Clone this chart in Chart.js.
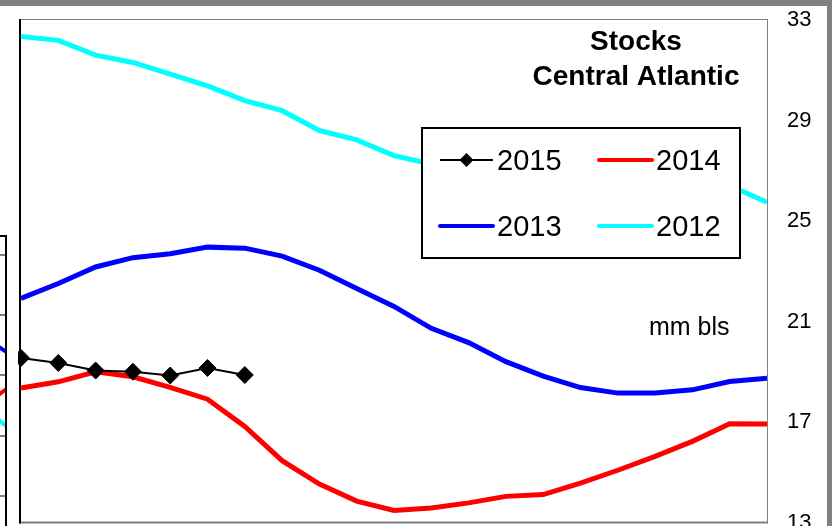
<!DOCTYPE html>
<html>
<head>
<meta charset="utf-8">
<script src="https://cdn.jsdelivr.net/npm/chart.js@4.4.0/dist/chart.umd.min.js"></script>
<style>
  html, body { margin: 0; padding: 0; background: #fff; overflow: hidden; }
  #wrap { position: relative; width: 832px; height: 526px; overflow: hidden; background: #fff; }
  #main { position: absolute; left: 0; top: 0; }
  #side { position: absolute; left: -293px; top: 235px; }
  .band { position: absolute; background: #808080; }
</style>
</head>
<body>
<div id="wrap">
  <canvas id="main" width="832" height="532"></canvas>
  <canvas id="side" width="300" height="291"></canvas>
  <div class="band" style="left:0;top:0;width:832px;height:6px"></div>
  <div class="band" style="left:827px;top:0;width:5px;height:526px"></div>
</div>
<script>
// weekly stock levels, mm bls
const weeks = ['1', '2', '3', '4', '5', '6', '7', '8', '9', '10', '11',
               '12', '13', '14', '15', '16', '17', '18', '19', '20', '21'];
const stocks2015 = [19.55, 19.35, 19.05, 19.0, 18.85, 19.15, 18.87];
const stocks2014 = [18.35, 18.6, 19.0, 18.8, 18.38, 17.91, 16.82, 15.46, 14.53, 13.85, 13.48,
                    13.58, 13.78, 14.04, 14.11, 14.57, 15.08, 15.63, 16.23, 16.93, 16.92];
const stocks2013 = [21.92, 22.51, 23.17, 23.54, 23.7, 23.96, 23.92, 23.6, 23.04, 22.31, 21.6,
                    20.73, 20.16, 19.4, 18.83, 18.37, 18.15, 18.15, 18.28, 18.61, 18.74];
const stocks2012 = [32.34, 32.19, 31.6, 31.31, 30.85, 30.38, 29.79, 29.39, 28.6, 28.23, 27.6,
                    27.27, 27.05, 26.9, 26.8, 26.7, 26.62, 26.55, 26.5, 26.4, 25.75];
const axisMin = 13, axisMax = 33, axisStep = 4;

// neighbouring chart, only its right edge is in the picture
const sideLabels = ['a', 'b', 'c', 'd', 'e'];
const sideBlue = [24.5, 23.8, 23.0, 22.3, 17.3];
const sideRed = [16.0, 14.5, 11.0, 8.2, 13.7];
const sideCyan = [25.0, 22.0, 19.0, 16.0, 9.9];
const sideGrid = [27, 21, 15, 9, 3];

const FONT = 'Arial, "Liberation Sans", Helvetica, sans-serif';

function diamond(ctx, x, y, r) {
    ctx.beginPath();
    ctx.moveTo(x - r, y);
    ctx.lineTo(x, y - r);
    ctx.lineTo(x + r, y);
    ctx.lineTo(x, y + r);
    ctx.closePath();
    ctx.fill();
}

const frame = {
    id: 'frame',
    afterDatasetsDraw(chart) {
        const ctx = chart.ctx, a = chart.chartArea;
        ctx.save();
        ctx.fillStyle = '#808080';
        ctx.fillRect(a.left - 2, a.top - 1, a.right - a.left + 3, 1);
        ctx.fillRect(a.right, a.top - 1, 1, a.bottom - a.top + 2);
        ctx.fillRect(a.left - 2, a.bottom - 1, a.right - a.left + 3, 2);
        ctx.fillStyle = '#000';
        ctx.fillRect(a.left - 2, a.top - 1, 2, a.bottom - a.top + 2);
        ctx.restore();
    },
    afterDraw(chart) {
        const ctx = chart.ctx;
        ctx.save();
        ctx.fillStyle = '#000';
        ctx.textBaseline = 'alphabetic';
        ctx.textAlign = 'center';
        ctx.font = 'bold 28px ' + FONT;
        ctx.fillText('Stocks', 636, 50);
        ctx.fillText('Central Atlantic', 636, 85);
        ctx.textAlign = 'left';
        ctx.font = '25px ' + FONT;
        ctx.fillText('mm bls', 649, 335);

        // legend box
        ctx.fillStyle = '#fff';
        ctx.fillRect(422, 128, 318, 130);
        ctx.strokeStyle = '#000';
        ctx.lineWidth = 2;
        ctx.strokeRect(422, 128, 318, 130);

        const spots = [[440, 160, 170], [599, 160, 170], [440, 226, 236], [599, 226, 236]];
        ctx.font = '29px ' + FONT;
        chart.data.datasets.forEach(function (ds, i) {
            const [x, y, base] = spots[i];
            ctx.strokeStyle = ds.borderColor;
            ctx.lineWidth = Math.min(ds.borderWidth, 4);
            ctx.lineCap = ds.borderWidth > 2 ? 'round' : 'butt';
            ctx.beginPath();
            ctx.moveTo(x, y);
            ctx.lineTo(x + 53, y);
            ctx.stroke();
            if (ds.pointRadius > 0) {
                ctx.fillStyle = ds.pointBackgroundColor;
                diamond(ctx, x + 26.5, y, 7);
            }
            ctx.fillStyle = '#000';
            ctx.fillText(ds.label, x + 57, base);
        });
        ctx.restore();
    }
};

function series(label, data, color, width) {
    return {
        label: label,
        data: data,
        borderColor: color,
        backgroundColor: color,
        borderWidth: width,
        pointRadius: 0,
        tension: 0,
        fill: false,
        clip: {left: 3, top: 0, right: 0, bottom: 0}
    };
}

let black = series('2015', stocks2015, '#000000', 2);
black.pointStyle = 'rectRot';
black.pointRadius = 8.5;
black.pointBorderWidth = 1;
black.pointBackgroundColor = '#000000';
black.pointBorderColor = '#000000';

new Chart(document.getElementById('main').getContext('2d'), {
    type: 'line',
    data: {
        labels: weeks,
        datasets: [
            black,
            series('2014', stocks2014, '#ff0000', 5),
            series('2013', stocks2013, '#0000ff', 5),
            series('2012', stocks2012, '#00ffff', 5)
        ]
    },
    options: {
        responsive: false,
        animation: false,
        layout: {padding: {top: 20, left: 21, right: 0, bottom: 0}},
        plugins: {legend: {display: false}, tooltip: {enabled: false}},
        scales: {
            x: {display: false, offset: false},
            y: {
                position: 'right',
                min: axisMin,
                max: axisMax,
                ticks: {stepSize: axisStep, color: '#000', padding: 20,
                        font: {family: FONT, size: 22, lineHeight: 0.1}},
                grid: {display: false, drawTicks: false},
                border: {display: false},
                afterFit: function (s) {
                    s.width = 65;
                    s.paddingTop = 0;
                    s.paddingBottom = 0;
                }
            }
        }
    },
    plugins: [frame]
});

const sideFrame = {
    id: 'sideFrame',
    afterDatasetsDraw(chart) {
        const ctx = chart.ctx, a = chart.chartArea;
        ctx.save();
        ctx.fillStyle = '#000';
        ctx.fillRect(a.left, a.top, a.right - a.left, 2);
        ctx.fillRect(a.right - 2, a.top, 2, a.bottom - a.top);
        ctx.restore();
    }
};

new Chart(document.getElementById('side').getContext('2d'), {
    type: 'line',
    data: {
        labels: sideLabels,
        datasets: [
            {data: sideBlue, borderColor: '#0000ff', borderWidth: 4, pointRadius: 0},
            {data: sideRed, borderColor: '#ff0000', borderWidth: 4, pointRadius: 0},
            {data: sideCyan, borderColor: '#00ffff', borderWidth: 4, pointRadius: 0}
        ]
    },
    options: {
        responsive: false,
        animation: false,
        layout: {padding: 0},
        plugins: {legend: {display: false}, tooltip: {enabled: false}},
        scales: {
            x: {display: false, offset: false},
            y: {
                min: 0,
                max: 29,
                ticks: {display: false},
                grid: {color: '#808080', lineWidth: 2, drawTicks: false},
                border: {display: false},
                afterBuildTicks: function (s) {
                    s.ticks = sideGrid.map(function (v) { return {value: v}; });
                }
            }
        }
    },
    plugins: [sideFrame]
});
</script>
</body>
</html>
